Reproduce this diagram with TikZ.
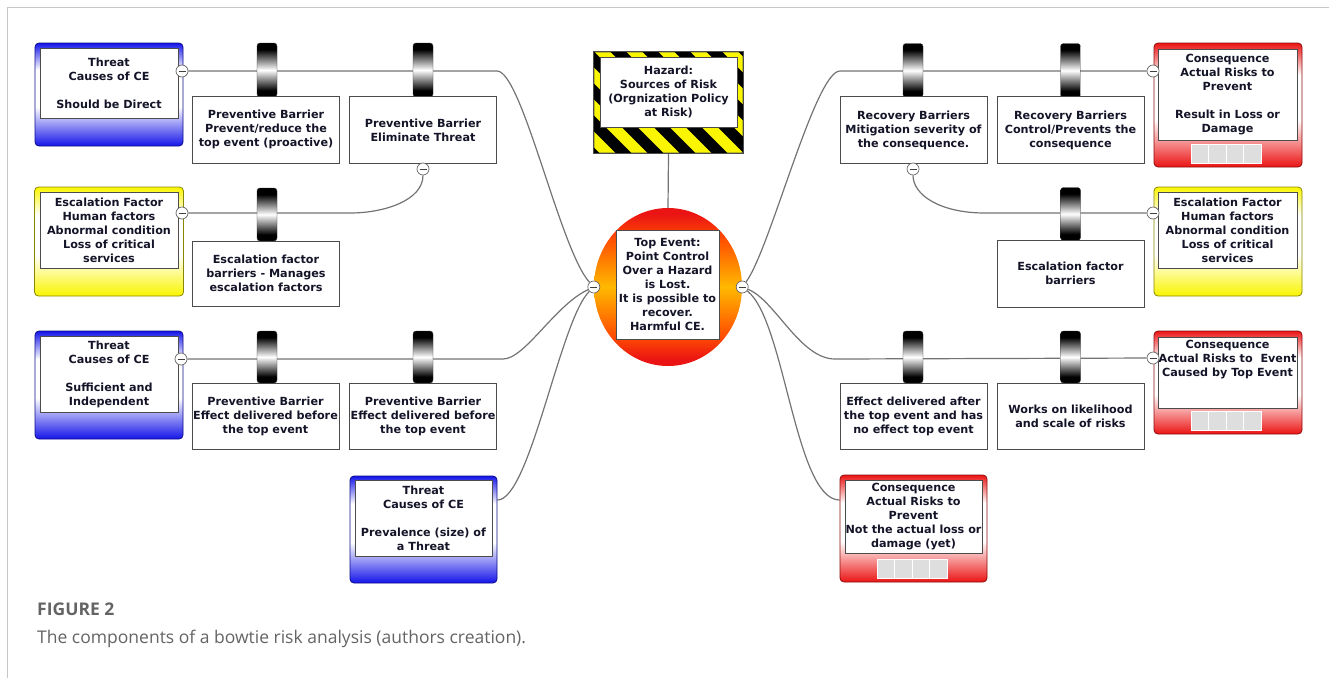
\documentclass[tikz,border=0pt]{standalone}
\usepackage{fontspec}
\setmainfont{DejaVu Sans}
\newfontfamily\capfont{Open Sans}
\usetikzlibrary{shapes.geometric}

\definecolor{thrblue}{RGB}{20,20,232}
\definecolor{escyellow}{RGB}{250,245,0}
\definecolor{conred}{RGB}{235,20,20}
\definecolor{topamber}{RGB}{255,185,0}
\definecolor{toporange}{RGB}{255,80,0}
\definecolor{wiregray}{RGB}{115,115,115}
\definecolor{inkdark}{RGB}{20,20,40}
\definecolor{capgray}{RGB}{100,100,100}

\pgfdeclareverticalshading{bluefade}{100bp}{color(0bp)=(thrblue); color(25bp)=(thrblue); color(44bp)=(white); color(62bp)=(white); color(75bp)=(thrblue); color(100bp)=(thrblue)}
\pgfdeclareverticalshading{yellowfade}{100bp}{color(0bp)=(escyellow); color(25bp)=(escyellow); color(44bp)=(white); color(62bp)=(white); color(75bp)=(escyellow); color(100bp)=(escyellow)}
\pgfdeclareverticalshading{redfade}{100bp}{color(0bp)=(conred); color(25bp)=(conred); color(44bp)=(white); color(62bp)=(white); color(75bp)=(conred); color(100bp)=(conred)}
\pgfdeclareverticalshading{barrelshade}{100bp}{color(0bp)=(black); color(31bp)=(black); color(50bp)=(white); color(69bp)=(black); color(100bp)=(black)}
\pgfdeclareverticalshading{topshade}{100bp}{color(0bp)=(conred); color(27bp)=(conred); color(35bp)=(toporange); color(50bp)=(topamber); color(65bp)=(toporange); color(73bp)=(conred); color(100bp)=(conred)}

\pgfdeclarelayer{background}
\pgfsetlayers{background,main}

\newcommand\boxfont{\fontsize{11.2}{14}\selectfont\bfseries}

\begin{document}
\begin{tikzpicture}[x=1pt, y=-1pt,
    outerbox/.style={rounded corners=4pt, inner sep=0pt, minimum width=148pt, line width=0.8pt},
    threat/.style={outerbox, draw=thrblue!60!black, shade, shading=bluefade},
    escal/.style={outerbox, draw=escyellow!55!black, shade, shading=yellowfade},
    conseq/.style={outerbox, draw=conred!60!black, shade, shading=redfade},
    txtbox/.style={draw=black!70, fill=white, inner sep=0pt, align=center, text=inkdark, font=\boxfont, line width=0.7pt},
    barrel/.style={draw=black!80, rounded corners=3pt, minimum width=20pt, minimum height=54pt, inner sep=0pt, shade, shading=barrelshade},
    barrier/.style={txtbox, minimum width=147pt, minimum height=66pt},
    minuscirc/.style={circle, draw=black!60, fill=white, minimum size=12pt, inner sep=0pt, line width=0.7pt,
      path picture={\draw[black!75, line width=1pt] ([xshift=-3.5pt]path picture bounding box.center) -- ([xshift=3.5pt]path picture bounding box.center);}},
    slot/.style={fill=black!13, draw=white, line width=0.8pt, minimum width=17.5pt, minimum height=19pt, inner sep=0pt},
    wire/.style={draw=wiregray, line width=1.2pt}]

    \useasboundingbox (0,0) rectangle (1329,678);
    \draw[black!22, line width=1pt] (7,678) -- (7,7) -- (1329,7);

    % threats and escalation factors (left)
    \node[threat, minimum height=103pt] (t1f) at (109,94.5) {};
    \node[txtbox, minimum width=138pt, minimum height=70pt] (t1) at (109,83) {Threat\\Causes of CE\\[14pt]Should be Direct};
    \node[escal, minimum width=149pt, minimum height=109pt] (e1f) at (109,241.5) {};
    \node[txtbox, minimum width=138pt, minimum height=76pt] (e1) at (109,230) {Escalation Factor\\Human factors\\Abnormal condition\\Loss of critical\\services};
    \node[threat, minimum height=108pt] (t2f) at (109,385) {};
    \node[txtbox, minimum width=138pt, minimum height=76pt] (t2) at (109,374) {Threat\\Causes of CE\\[14pt]Sufficient and\\Independent};
    \node[threat, minimum width=147pt, minimum height=107pt] (t3f) at (423.5,529.5) {};
    \node[txtbox, minimum width=137pt, minimum height=76pt] (t3) at (423.5,518) {Threat\\Causes of CE\\[14pt]Prevalence (size) of\\a Threat};

    % hazard
    \node[outerbox, rounded corners=1pt, fill=escyellow, draw=black!70, minimum width=149pt, minimum height=101pt] (hzf) at (668.5,102.5) {};
    \begin{scope}
      \clip (hzf.north west) rectangle (hzf.south east);
      \foreach \s in {-192,-160,...,192}
        \draw[line width=11pt] (608.5+\s,42) -- ++(120,120);
    \end{scope}
    \draw[black!70, line width=0.8pt] (hzf.north west) rectangle (hzf.south east);
    \node[txtbox, minimum width=137pt, minimum height=70pt] (hz) at (668.5,92) {Hazard:\\Sources of Risk\\(Orgnization Policy\\at Risk)};

    % top event
    \node[ellipse, minimum width=148pt, minimum height=158pt, inner sep=0pt, shade, shading=topshade] (te) at (668,287) {};
    \node[txtbox, minimum width=103pt, minimum height=109pt] (tebox) at (667.5,284.5) {Top Event:\\Point Control\\Over a Hazard\\is Lost.\\It is possible to\\recover.\\Harmful CE.};

    % consequences and escalation factors (right)
    \node[conseq, minimum height=124pt] (c1f) at (1228,105) {};
    \node[txtbox, minimum width=139pt, minimum height=91pt] (c1) at (1227.5,94.5) {Consequence\\Actual Risks to\\Prevent\\[14pt]Result in Loss or\\Damage};
    \foreach \i in {0,...,3}
      \node[slot] (c1s\i) at (1200+17.5*\i,153.5) {};
    \node[escal, minimum height=109pt] (e2f) at (1228,241.5) {};
    \node[txtbox, minimum width=139pt, minimum height=76pt] (e2) at (1227.5,230) {Escalation Factor\\Human factors\\Abnormal condition\\Loss of critical\\services};
    \node[conseq, minimum height=103pt] (c2f) at (1228,382.5) {};
    \node[txtbox, minimum width=139pt, minimum height=71pt] (c2) at (1227.5,372.5) {Consequence\\Actual Risks to\ \ Event\\Caused by Top Event\\[14pt]};
    \foreach \i in {0,...,3}
      \node[slot] (c2s\i) at (1200+17.5*\i,420.5) {};
    \node[conseq, minimum width=147pt, minimum height=107pt] (c3f) at (913.5,528.5) {};
    \node[txtbox, minimum width=137pt, minimum height=73pt] (c3) at (913.5,516.5) {Consequence\\Actual Risks to\\Prevent\\Not the actual loss or\\damage (yet)};
    \foreach \i in {0,...,3}
      \node[slot] (c3s\i) at (886+17.5*\i,569) {};

    % barriers
    \node[barrel] (pb1i) at (267,70) {};
    \node[barrier, minimum height=67pt] (pb1) at (266,129.5) {Preventive Barrier\\Prevent/reduce the\\top event (proactive)};
    \node[barrel] (pb2i) at (423,70) {};
    \node[barrier, minimum height=67pt] (pb2) at (423,130) {Preventive Barrier\\Eliminate Threat};
    \node[barrel, minimum height=53pt] (eb1i) at (267,214.5) {};
    \node[barrier, minimum height=65pt] (eb1) at (266,273.5) {Escalation factor\\barriers - Manages\\escalation factors};
    \node[barrel, minimum height=52pt] (pb3i) at (267,357) {};
    \node[barrier] (pb3) at (265.5,416) {Preventive Barrier\\Effect delivered before\\the top event};
    \node[barrel, minimum height=52pt] (pb4i) at (423,357) {};
    \node[barrier] (pb4) at (423,416) {Preventive Barrier\\Effect delivered before\\the top event};

    \node[barrel] (rb1i) at (913,70.5) {};
    \node[barrier, minimum height=67pt] (rb1) at (913.5,130) {Recovery Barriers\\Mitigation severity of\\the consequence.};
    \node[barrel] (rb2i) at (1070.5,70.5) {};
    \node[barrier, minimum height=67pt] (rb2) at (1070.5,130) {Recovery Barriers\\Control/Prevents the\\consequence};
    \node[barrel, minimum height=53pt] (eb2i) at (1070.5,214) {};
    \node[barrier, minimum height=67pt] (eb2) at (1070.5,273.5) {Escalation factor\\barriers};
    \node[barrel, minimum height=52pt] (rb3i) at (913,357) {};
    \node[barrier] (rb3) at (913.5,416) {Effect delivered after\\the top event and has\\no effect top event};
    \node[barrel, minimum height=52pt] (rb4i) at (1070.5,357) {};
    \node[barrier] (rb4) at (1070.5,416) {Works on likelihood\\and scale of risks};

    % collapse buttons
    \node[minuscirc] (mt1) at (182,71) {};
    \node[minuscirc] (me1) at (182,213) {};
    \node[minuscirc] (mt2) at (181,359) {};
    \node[minuscirc] (mpb) at (423,169) {};
    \node[minuscirc] (mtl) at (te.west) {};
    \node[minuscirc] (mtr) at (te.east) {};
    \node[minuscirc] (mc1) at (1153,71) {};
    \node[minuscirc] (mrb) at (913,169) {};
    \node[minuscirc] (me2) at (1153,213) {};
    \node[minuscirc] (mc2) at (1153,358) {};

    % connectors
    \begin{pgfonlayer}{background}
      \draw[wire] (hzf.south) -- (te.north);
      \draw[wire] (mt1) -- (497,71) .. controls (522,71) and (560,250) .. (mtl);
      \draw[wire] (me1) -- (350,213) .. controls (385,213) and (423,200) .. (mpb);
      \draw[wire] (mt2) -- (503,359) .. controls (525,359) and (555,305) .. (mtl);
      \draw[wire] ([yshift=29.5pt]t3f.east) .. controls (530,500) and (560,320) .. (mtl);
      \draw[wire] (mtr) .. controls (770,250) and (815,71) .. (840,71) -- (mc1);
      \draw[wire] (mrb) .. controls (913,195) and (940,213) .. (985,213) -- (me2);
      \draw[wire] (mtr) .. controls (775,300) and (800,359) .. (835,359) -- (mc2);
      \draw[wire] (mtr) .. controls (785,320) and (795,500) .. ([yshift=28.5pt]c3f.west);
    \end{pgfonlayer}

    % caption
    \node[anchor=base west, inner sep=0pt, text=capgray, font=\capfont\bfseries\fontsize{17.5}{20}\selectfont] (figno) at (37,615) {FIGURE 2};
    \node[anchor=base west, inner sep=0pt, text=capgray, font=\capfont\fontsize{17.5}{20}\selectfont] (figcap) at (37,643) {The components of a bowtie risk analysis (authors creation).};
\end{tikzpicture}
\end{document}
